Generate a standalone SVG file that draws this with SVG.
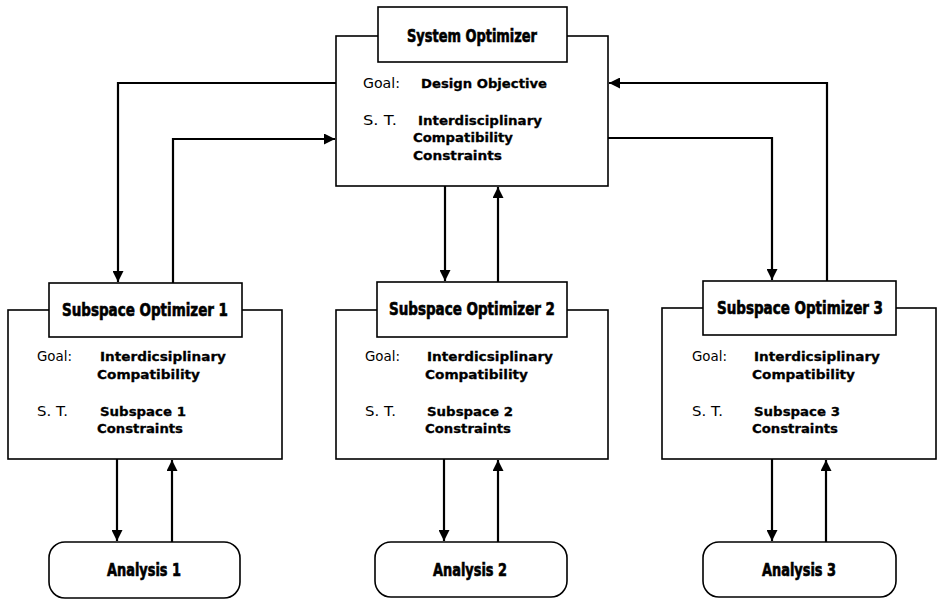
<svg xmlns="http://www.w3.org/2000/svg" width="938" height="609" viewBox="0 0 938 609">
  <style>
    .box { fill: #fff; stroke: #000; stroke-width: 1.6; }
    .conn { fill: none; stroke: #000; stroke-width: 2.2; }
    .title { font-family: "DejaVu Sans Condensed", "DejaVu Sans", sans-serif; font-weight: bold; font-size: 17px; fill: #000; stroke: #000; stroke-width: 0.6; text-anchor: middle; }
    .lbl { font-family: "DejaVu Sans", "Liberation Sans", sans-serif; font-size: 13.5px; fill: #000; }
    .val { font-family: "DejaVu Sans", "Liberation Sans", sans-serif; font-weight: bold; font-size: 13px; fill: #000; stroke: #000; stroke-width: 0.3; }
  </style>
  <defs>
    <marker id="arrow" viewBox="0 0 10 10" refX="10" refY="5" markerWidth="11" markerHeight="11" markerUnits="userSpaceOnUse" orient="auto">
      <path d="M0,0 L10,5 L0,10 Z" fill="#000"/>
    </marker>
  </defs>
  <rect width="938" height="609" fill="#fff"/>

  <!-- connectors -->
  <g id="connectors">
    <!-- system <-> subspace 1 -->
    <path class="conn" d="M336,83 H118 V282" marker-end="url(#arrow)"/>
    <path class="conn" d="M173,283 V139 H335" marker-end="url(#arrow)"/>
    <!-- system <-> subspace 2 -->
    <path class="conn" d="M445,186 V281" marker-end="url(#arrow)"/>
    <path class="conn" d="M498,282 V187" marker-end="url(#arrow)"/>
    <!-- system <-> subspace 3 -->
    <path class="conn" d="M827,281 V83 H609" marker-end="url(#arrow)"/>
    <path class="conn" d="M608,138 H772 V280" marker-end="url(#arrow)"/>
    <!-- subspace <-> analysis -->
    <path class="conn" d="M117,459 V541" marker-end="url(#arrow)"/>
    <path class="conn" d="M172,542 V460" marker-end="url(#arrow)"/>
    <path class="conn" d="M444,459 V541" marker-end="url(#arrow)"/>
    <path class="conn" d="M498,542 V460" marker-end="url(#arrow)"/>
    <path class="conn" d="M772,459 V541" marker-end="url(#arrow)"/>
    <path class="conn" d="M826,542 V460" marker-end="url(#arrow)"/>
  </g>

  <!-- system optimizer -->
  <g id="system-optimizer">
    <rect class="box" x="336" y="36" width="272" height="150"/>
    <rect class="box" x="378" y="7" width="189" height="55"/>
    <text class="title" x="472" y="42" textLength="130" lengthAdjust="spacingAndGlyphs">System Optimizer</text>
    <text class="lbl" x="363" y="88" textLength="37" lengthAdjust="spacingAndGlyphs">Goal:</text>
    <text class="val" x="421" y="88" textLength="126" lengthAdjust="spacingAndGlyphs">Design Objective</text>
    <text class="lbl" x="363" y="125" textLength="34" lengthAdjust="spacingAndGlyphs">S. T.</text>
    <text class="val" x="418" y="125" textLength="124" lengthAdjust="spacingAndGlyphs">Interdisciplinary</text>
    <text class="val" x="413" y="142" textLength="100" lengthAdjust="spacingAndGlyphs">Compatibility</text>
    <text class="val" x="413" y="160" textLength="89" lengthAdjust="spacingAndGlyphs">Constraints</text>
  </g>

  <!-- subspace optimizer 1 -->
  <g id="subspace-optimizer-1">
    <rect class="box" x="8" y="310" width="274" height="149"/>
    <rect class="box" x="49" y="283" width="193" height="54"/>
    <text class="title" x="145" y="316" textLength="166" lengthAdjust="spacingAndGlyphs">Subspace Optimizer 1</text>
    <text class="lbl" x="37" y="361" textLength="35" lengthAdjust="spacingAndGlyphs">Goal:</text>
    <text class="val" x="100" y="361" textLength="126" lengthAdjust="spacingAndGlyphs">Interdicsiplinary</text>
    <text class="val" x="97" y="379" textLength="103" lengthAdjust="spacingAndGlyphs">Compatibility</text>
    <text class="lbl" x="37" y="416" textLength="31" lengthAdjust="spacingAndGlyphs">S. T.</text>
    <text class="val" x="100" y="416" textLength="86" lengthAdjust="spacingAndGlyphs">Subspace 1</text>
    <text class="val" x="97" y="433" textLength="86" lengthAdjust="spacingAndGlyphs">Constraints</text>
  </g>

  <!-- subspace optimizer 2 -->
  <g id="subspace-optimizer-2">
    <rect class="box" x="336" y="310" width="272" height="149"/>
    <rect class="box" x="377" y="282" width="190" height="55"/>
    <text class="title" x="472" y="315" textLength="166" lengthAdjust="spacingAndGlyphs">Subspace Optimizer 2</text>
    <text class="lbl" x="365" y="361" textLength="35" lengthAdjust="spacingAndGlyphs">Goal:</text>
    <text class="val" x="427" y="361" textLength="126" lengthAdjust="spacingAndGlyphs">Interdicsiplinary</text>
    <text class="val" x="425" y="379" textLength="103" lengthAdjust="spacingAndGlyphs">Compatibility</text>
    <text class="lbl" x="365" y="416" textLength="31" lengthAdjust="spacingAndGlyphs">S. T.</text>
    <text class="val" x="427" y="416" textLength="86" lengthAdjust="spacingAndGlyphs">Subspace 2</text>
    <text class="val" x="425" y="433" textLength="86" lengthAdjust="spacingAndGlyphs">Constraints</text>
  </g>

  <!-- subspace optimizer 3 -->
  <g id="subspace-optimizer-3">
    <rect class="box" x="662" y="308" width="274" height="151"/>
    <rect class="box" x="703" y="281" width="193" height="54"/>
    <text class="title" x="800" y="314" textLength="166" lengthAdjust="spacingAndGlyphs">Subspace Optimizer 3</text>
    <text class="lbl" x="692" y="361" textLength="35" lengthAdjust="spacingAndGlyphs">Goal:</text>
    <text class="val" x="754" y="361" textLength="126" lengthAdjust="spacingAndGlyphs">Interdicsiplinary</text>
    <text class="val" x="752" y="379" textLength="103" lengthAdjust="spacingAndGlyphs">Compatibility</text>
    <text class="lbl" x="692" y="416" textLength="31" lengthAdjust="spacingAndGlyphs">S. T.</text>
    <text class="val" x="754" y="416" textLength="86" lengthAdjust="spacingAndGlyphs">Subspace 3</text>
    <text class="val" x="752" y="433" textLength="86" lengthAdjust="spacingAndGlyphs">Constraints</text>
  </g>

  <!-- analysis blocks -->
  <g id="analysis-1">
    <rect class="box" x="49" y="542" width="191" height="56" rx="16" ry="16"/>
    <text class="title" x="144" y="576" textLength="74" lengthAdjust="spacingAndGlyphs">Analysis 1</text>
  </g>
  <g id="analysis-2">
    <rect class="box" x="375" y="542" width="192" height="55" rx="16" ry="16"/>
    <text class="title" x="470" y="576" textLength="74" lengthAdjust="spacingAndGlyphs">Analysis 2</text>
  </g>
  <g id="analysis-3">
    <rect class="box" x="703" y="542" width="193" height="55" rx="16" ry="16"/>
    <text class="title" x="799" y="576" textLength="74" lengthAdjust="spacingAndGlyphs">Analysis 3</text>
  </g>
</svg>
